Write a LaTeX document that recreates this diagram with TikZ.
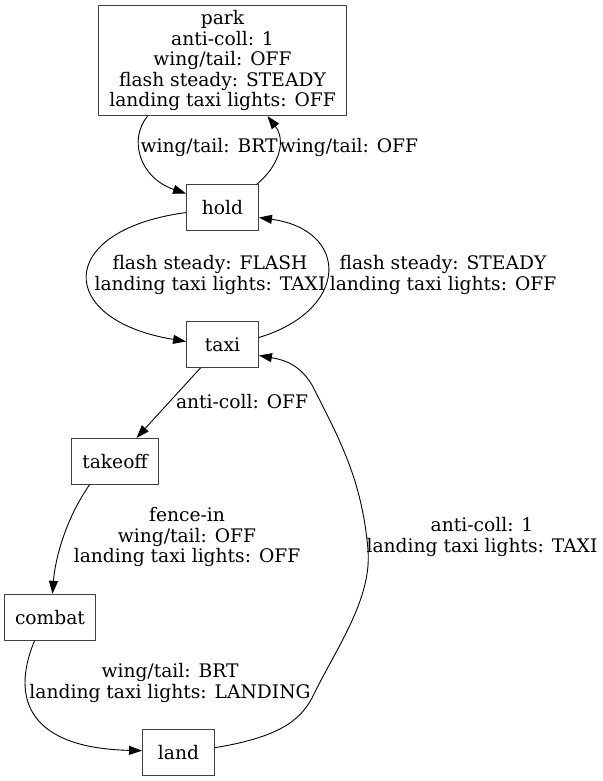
\documentclass[tikz,border=0pt]{standalone}
\usepackage{fontspec}
\setmainfont{DejaVu Serif}
\usetikzlibrary{positioning,arrows.meta}

\begin{document}
\begin{tikzpicture}[x=1pt, y=-1pt, > = {Triangle[length=13pt,width=9pt]},
  every node/.style={font=\fontsize{18.67}{20.5}\selectfont},
  state/.style={draw=black!75, line width=0.9pt, minimum width=72pt, minimum height=46pt,
    inner xsep=10.5pt, inner ysep=5pt, align=center},
  lbl/.style={align=center, inner sep=0pt},
  link/.style={->, line width=0.9pt}]
\useasboundingbox (0,0) rectangle (602,781);

\node (park) [state] at (222.5,60.5) {park\\anti-coll: 1\\wing/tail: OFF\\flash steady: STEADY\\landing taxi lights: OFF};
\node (hold) [state, below=68pt of park] {hold};
\node (taxi) [state, below=90pt of hold] {taxi};
\node (takeoff) [state, below=70pt of taxi, xshift=-107.5pt] {takeoff};
\node (combat) [state, below=109pt of takeoff, xshift=-65pt] {combat};
\node (land) [state, below=88pt of combat, xshift=128.5pt] {land};

\node (brt) [lbl] at (209,147) {wing/tail: BRT};
\node (off) [lbl] at (349,147) {wing/tail: OFF};
\node (flash) [lbl] at (210,275) {flash steady: FLASH\\landing taxi lights: TAXI};
\node (steady) [lbl] at (443,275) {flash steady: STEADY\\landing taxi lights: OFF};
\node (acoff) [lbl] at (242,402) {anti-coll: OFF};
\node (fence) [lbl] at (187,537) {fence-in\\wing/tail: OFF\\landing taxi lights: OFF};
\node (landing) [lbl] at (170,683) {wing/tail: BRT\\landing taxi lights: LANDING};
\node (acone) [lbl] at (482,537) {anti-coll: 1\\landing taxi lights: TAXI};

\draw[link] ([xshift=-75pt]park.south) .. controls (128,140) and (140,178) .. ([yshift=14pt]hold.west);
\draw[link] ([xshift=-2pt]hold.north east) .. controls (280,165) and (286,140) .. ([xshift=45pt]park.south);
\draw[link] ([yshift=-5pt]hold.west) .. controls (55,230) and (55,320) .. ([yshift=3pt]taxi.west);
\draw[link] ([yshift=7pt]taxi.east) .. controls (350,310) and (350,230) .. ([yshift=-10pt]hold.east);
\draw[link] ([xshift=-22pt]taxi.south) -- ([xshift=21.5pt]takeoff.north);
\draw[link] ([xshift=-25.5pt]takeoff.south) .. controls (65,520) and (55,560) .. ([xshift=2.5pt]combat.north);
\draw[link] ([xshift=-15.5pt]combat.south) .. controls (10,700) and (30,748) .. ([yshift=1.5pt]land.west);
\draw[link] ([yshift=4.5pt]land.east) .. controls (280,737) and (300,720) .. (312,698)
  .. controls (335,650) and (372,600) .. (368,550)
  .. controls (362,480) and (340,440) .. (312,385)
  .. controls (300,365) and (285,360) .. ([yshift=-11pt]taxi.east);
\end{tikzpicture}
\end{document}
